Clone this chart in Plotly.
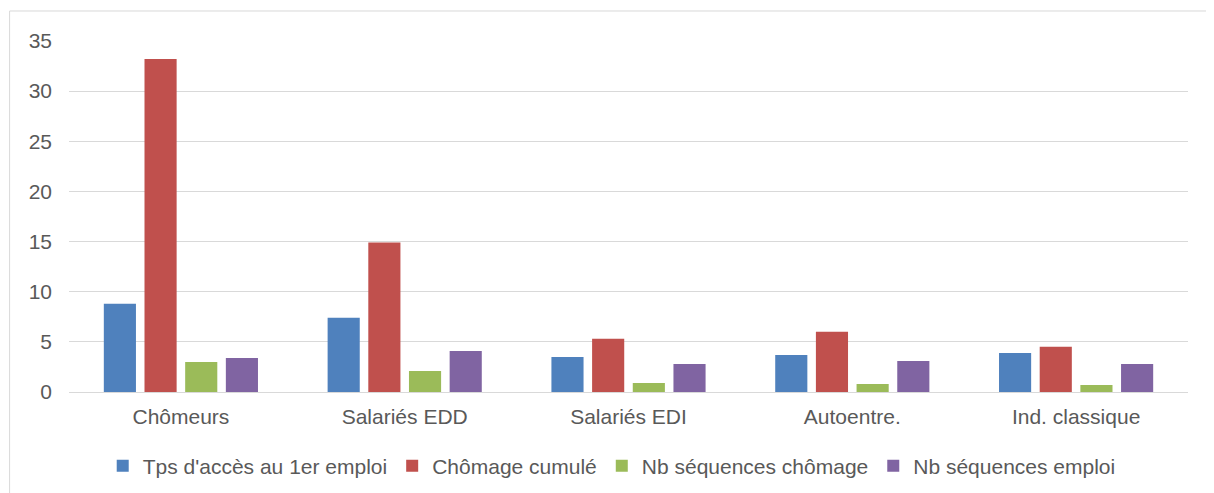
import plotly.graph_objects as go

categories = ["Chômeurs", "Salariés EDD", "Salariés EDI", "Autoentre.", "Ind. classique"]
series_names = ["Tps d'accès au 1er emploi", "Chômage cumulé", "Nb séquences chômage", "Nb séquences emploi"]
tps_acces = [8.8, 7.4, 3.5, 3.7, 3.9]
chomage_cumule = [33.2, 14.9, 5.3, 6.0, 4.5]
nb_seq_chomage = [3.0, 2.1, 0.9, 0.8, 0.7]
nb_seq_emploi = [3.4, 4.1, 2.8, 3.1, 2.8]
colors = ["#4F81BD", "#C0504D", "#9BBB59", "#8064A2"]
y_ticks = [0, 5, 10, 15, 20, 25, 30, 35]

FONT = "Liberation Sans, Arial, sans-serif"
TXT = "#595959"
FS = 21

fig = go.Figure()
for name, vals, c in zip(series_names, [tps_acces, chomage_cumule, nb_seq_chomage, nb_seq_emploi], colors):
    fig.add_trace(go.Bar(x=categories, y=vals, name=name, marker=dict(color=c, line=dict(width=0))))

fig.update_layout(
    width=1214, height=493,
    margin=dict(l=61, r=33.5, t=33, b=109.3),
    paper_bgcolor="white", plot_bgcolor="white",
    barmode="group", bargap=0.273, bargroupgap=0.21,
    font=dict(family=FONT, size=FS, color=TXT),
    showlegend=True,
    legend=dict(orientation="h", x=0.485, xanchor="center", y=-0.211, yanchor="middle",
                font=dict(family=FONT, size=FS, color=TXT), traceorder="normal"),
    xaxis=dict(showgrid=False, ticks="", showline=True, linecolor="#D9D9D9", linewidth=1,
               ticklabelstandoff=6, tickfont=dict(size=FS, color=TXT)),
    yaxis=dict(range=[0, 35], tickvals=y_ticks, showgrid=True, gridcolor="#D9D9D9", gridwidth=1,
               zeroline=False, showline=False, ticks="", ticklabelstandoff=16,
               tickfont=dict(size=FS, color=TXT)),
    shapes=[dict(type="rect", xref="paper", yref="paper", x0=-0.0531, y0=-0.35, x1=1.2, y1=1.0855,
                 line=dict(color="#D9D9D9", width=1), fillcolor="rgba(0,0,0,0)", layer="below")],
)

fig.write_html("out.html")
